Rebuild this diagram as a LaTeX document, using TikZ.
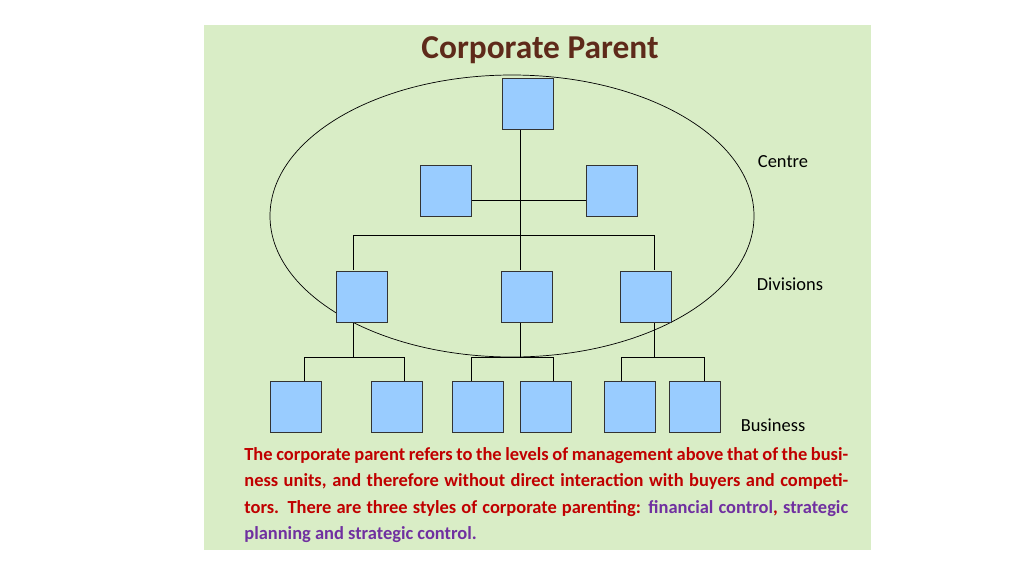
\documentclass[tikz,border=0pt]{standalone}
\usepackage{fontspec}
\setmainfont{Carlito}
\usepackage{tikz}
\definecolor{bggreen}{HTML}{D9EDC6}
\definecolor{boxblue}{HTML}{99CCFF}
\definecolor{titlebrown}{HTML}{5E2A1A}
\definecolor{textred}{HTML}{C00000}
\definecolor{textpurple}{HTML}{7030A0}

\begin{document}
\begin{tikzpicture}[x=0.02cm,y=-0.02cm,every path/.style={thin},
    unit/.style={draw=black!80,fill=boxblue,minimum size=1.02cm,inner sep=0pt}]
          \useasboundingbox (0,0) rectangle (1024,576);
          \fill[bggreen] (204,25) rectangle (871,550);
          \node[font=\bfseries\fontsize{19}{22}\selectfont,text=titlebrown] (title) at (540,50) {Corporate Parent};
          \draw (512,216) ellipse [x radius=242, y radius=141];

          \node[unit] (P) at (528,104) {};
          \node[unit] (C1) at (446,191) {};
          \node[unit] (C2) at (612,191) {};
          \node[unit] (D1) at (362,297) {};
          \node[unit] (D2) at (527,297) {};
          \node[unit] (D3) at (646,297) {};
          \node[unit] (B1) at (296,407) {};
          \node[unit] (B2) at (397,407) {};
          \node[unit] (B3) at (478,407) {};
          \node[unit] (B4) at (546,407) {};
          \node[unit] (B5) at (630,407) {};
          \node[unit] (B6) at (695,407) {};

          \draw (520,130) -- (520,270);
          \draw (C1.east |- 0,200) -- (C2.west |- 0,200);
          \draw (353,270) -- (353,235) -- (654,235) -- (654,270);
          \draw (353,323) -- (353,357);
          \draw (304,381) -- (304,357) -- (404,357) -- (404,381);
          \draw (520,323) -- (520,357);
          \draw (471,381) -- (471,357) -- (553,357) -- (553,381);
          \draw (654,323) -- (654,357);
          \draw (621,381) -- (621,357) -- (704,357) -- (704,381);

          \node[font=\fontsize{10.5}{12}\selectfont] (centre) at (783,162) {Centre};
          \node[font=\fontsize{10.5}{12}\selectfont] (div) at (790,284) {Divisions};
          \node[font=\fontsize{10.5}{12}\selectfont] (bus) at (773,425) {Business};

          \node[anchor=north west,inner sep=0pt,text width=12.08cm,align=justify,
                font=\bfseries\fontsize{10.5}{15}\selectfont,text=textred] (note) at (244,447)
            {The corporate parent refers to the levels of management above that of the business units, and therefore without direct interaction with buyers and competitors. There are three styles of corporate parenting: \textcolor{textpurple}{financial control}, \textcolor{textpurple}{strategic planning and strategic control.}};
        \end{tikzpicture}
\end{document}
